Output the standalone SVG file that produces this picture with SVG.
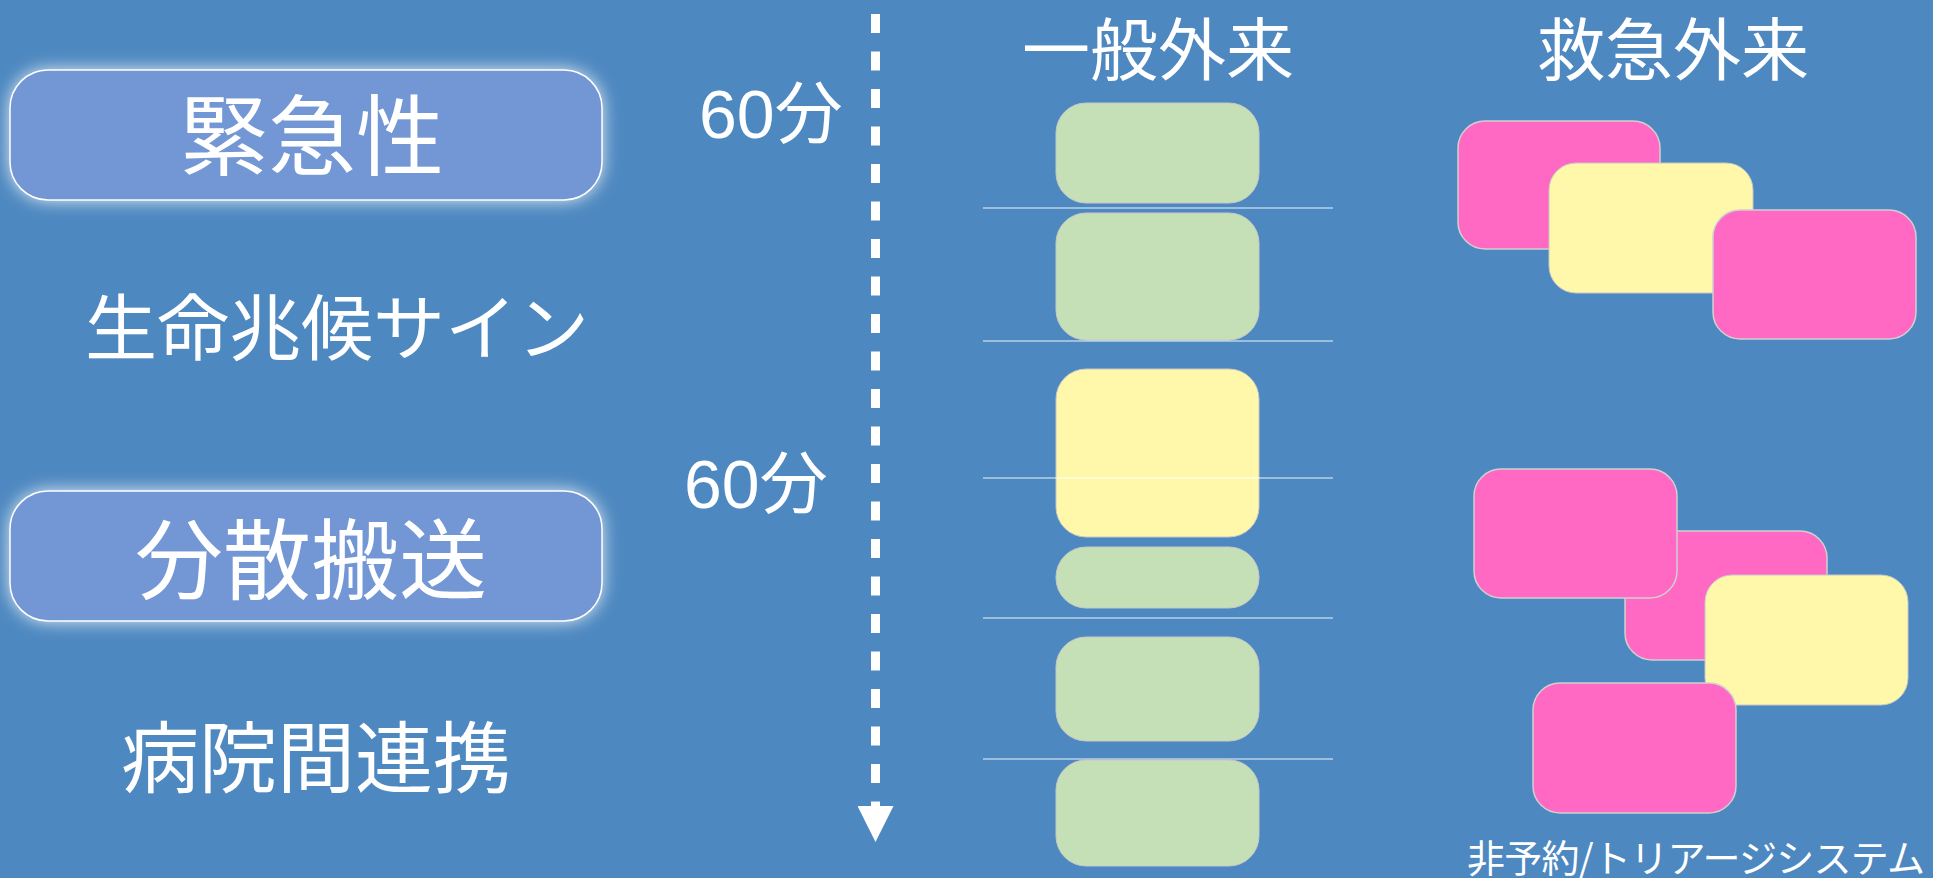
<svg xmlns="http://www.w3.org/2000/svg" width="1933" height="878" viewBox="0 0 1933 878">
<defs>
<style>
.cjk{font-family:"Noto Sans CJK JP","Noto Sans",sans-serif;fill:#ffffff;}
.num{font-family:"Liberation Sans","Noto Sans CJK JP",sans-serif;fill:#ffffff;}
.green{fill:#C5DFB6;stroke:#c8c8c8;stroke-width:1;}
.yellow{fill:#FFF8AB;stroke:#c8c8c8;stroke-width:1;}
.pink{fill:#FF69C3;stroke:#d0d0d0;stroke-width:1.5;}
.lbox{fill:#7396D4;stroke:#ffffff;stroke-width:1.5;}
.sep{stroke:#ffffff;stroke-width:1.2;opacity:0.9;}
</style>
<filter id="glow" x="-10%" y="-30%" width="120%" height="160%">
<feGaussianBlur stdDeviation="9"/>
</filter>
<marker id="arrow" markerWidth="36" markerHeight="36" viewBox="0 0 36 36" refX="0" refY="18" orient="auto" markerUnits="userSpaceOnUse">
<polygon points="0,0 36,18 0,36" fill="#ffffff"/>
</marker>
</defs>
<rect x="0" y="0" width="1933" height="878" fill="#4D88C0"/>

<g id="node-kinkyusei">
<rect x="10" y="70" width="592" height="130" rx="38" fill="#ffffff" opacity="0.9" filter="url(#glow)"/>
<rect class="lbox" x="10" y="70" width="592" height="130" rx="38"/>
<text class="cjk" x="312" y="168" font-size="88" text-anchor="middle">緊急性</text>
</g>
<g id="node-seimei">
<text class="cjk" x="337" y="354" font-size="72" text-anchor="middle">生命兆候サイン</text>
</g>
<g id="node-bunsan">
<rect x="10" y="491" width="592" height="130" rx="38" fill="#ffffff" opacity="0.9" filter="url(#glow)"/>
<rect class="lbox" x="10" y="491" width="592" height="130" rx="38"/>
<text class="cjk" x="311" y="592" font-size="88" text-anchor="middle">分散搬送</text>
</g>
<g id="node-byoin">
<text class="cjk" x="316" y="787" font-size="78" text-anchor="middle">病院間連携</text>
</g>

<g id="labels-time">
<text class="num" x="699" y="138" font-size="68">60分</text>
<text class="num" x="684" y="508" font-size="68">60分</text>
</g>

<g id="connectors">
<line x1="875.5" y1="14" x2="875.5" y2="806" stroke="#ffffff" stroke-width="9" stroke-dasharray="19 18.5" marker-end="url(#arrow)"/>
</g>

<g id="col-ippan">
<text class="cjk" x="1158" y="75" font-size="68" text-anchor="middle">一般外来</text>
<rect class="green" x="1056" y="103" width="203" height="100" rx="30"/>
<line class="sep" x1="983" y1="208" x2="1333" y2="208"/>
<rect class="green" x="1056" y="213" width="203" height="127" rx="30"/>
<line class="sep" x1="983" y1="341" x2="1333" y2="341"/>
<rect class="yellow" x="1056" y="369" width="203" height="168" rx="30"/>
<line class="sep" x1="983" y1="478" x2="1333" y2="478"/>
<rect class="green" x="1056" y="547" width="203" height="61" rx="30"/>
<line class="sep" x1="983" y1="618" x2="1333" y2="618"/>
<rect class="green" x="1056" y="637" width="203" height="104" rx="30"/>
<line class="sep" x1="983" y1="759" x2="1333" y2="759"/>
<rect class="green" x="1056" y="760" width="203" height="106" rx="30"/>
</g>

<g id="col-kyukyu">
<text class="cjk" x="1673" y="75" font-size="68" text-anchor="middle">救急外来</text>
<rect class="pink" x="1458" y="121" width="202" height="128" rx="27"/>
<rect class="yellow" x="1549" y="163" width="204" height="130" rx="27"/>
<rect class="pink" x="1713" y="210" width="203" height="129" rx="27"/>
<rect class="pink" x="1625" y="531" width="202" height="129" rx="27"/>
<rect class="pink" x="1474" y="469" width="203" height="129" rx="27"/>
<rect class="yellow" x="1705" y="575" width="203" height="130" rx="27"/>
<rect class="pink" x="1533" y="683" width="203" height="130" rx="27"/>
<text class="cjk" x="1467" y="872" font-size="38" textLength="458" lengthAdjust="spacing">非予約/トリアージシステム</text>
</g>
</svg>
